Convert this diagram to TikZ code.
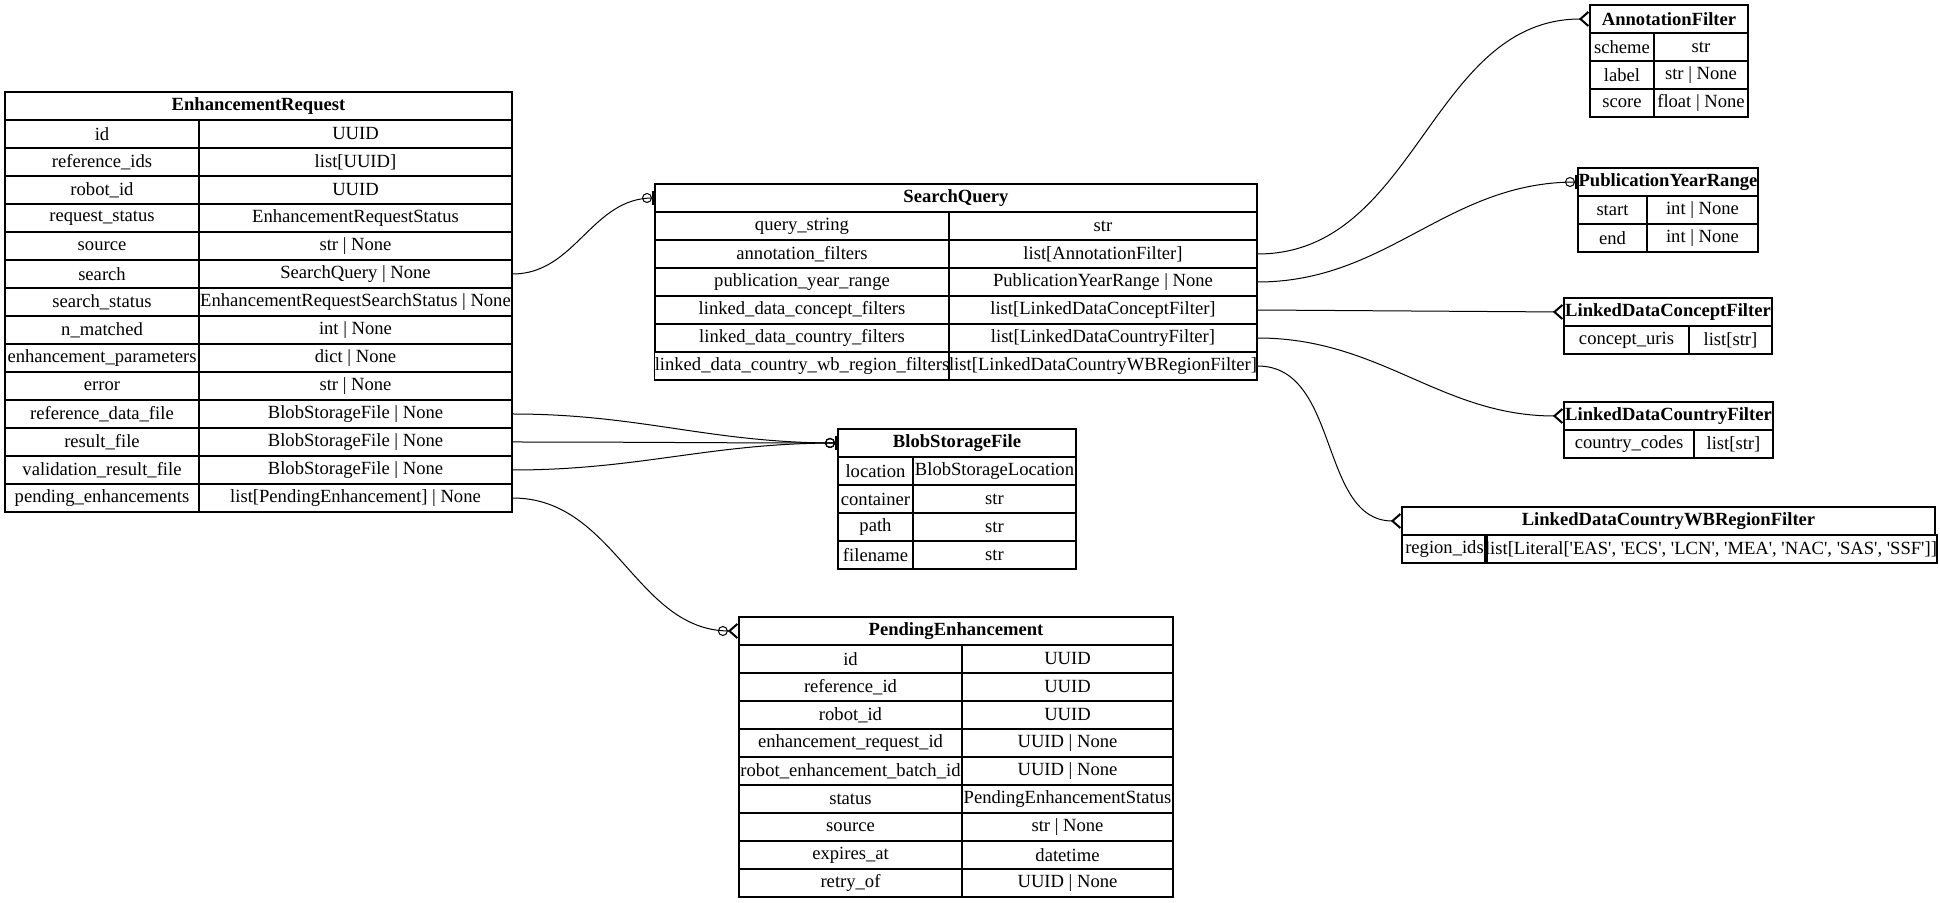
\documentclass[tikz,border=0pt]{standalone}
\usepackage{fontspec}
\setmainfont{Liberation Serif}
\usetikzlibrary{arrows.meta}
\tikzset{
    cell/.style={
           rectangle,
           draw=black, line width=0.6pt,
           minimum height=14pt,
           inner sep=0pt,
           text centered},
    zeroone/.style={
           -{Circle[open,length=5pt,width=5pt] Bar[width=7pt,line width=1.2pt]},
           line width=0.5pt},
    many/.style={
           -{Straight Barb[reversed,length=4pt,width=7pt,line width=1pt]},
           line width=0.5pt},
    zeromany/.style={
           -{Circle[open,length=5pt,width=5pt] Straight Barb[reversed,length=4pt,width=7pt,line width=1pt]},
           line width=0.5pt}
}
% header: name, x0, x1, ytop, text
\newcommand\hdr[5]{\node[cell, font=\bfseries, minimum width={(#3-#2)*0.5pt}] (#1) at ({(#2+#3)/2},{#4+14}) {#5};}
% field: name, x0, xsplit, x1, ytop, key, type
\newcommand\fld[7]{%
  \node[cell, minimum width={(#3-#2)*0.5pt}] (#1-k) at ({(#2+#3)/2},{#5+14}) {#6};
  \node[cell, minimum width={(#4-#3)*0.5pt}] (#1-v) at ({(#3+#4)/2},{#5+14}) {#7};}

\begin{document}
\begin{tikzpicture}[x=0.5pt, y=-0.5pt]
          \fontsize{9.3pt}{11pt}\selectfont
          \useasboundingbox (0,0) rectangle (1940,903);
          % EnhancementRequest
          \hdr{er}{5}{512}{92}{EnhancementRequest}
          \foreach \k/\v [count=\i] in {id/UUID, reference\_ids/list[UUID], robot\_id/UUID,
              request\_status/EnhancementRequestStatus, source/str | None, search/SearchQuery | None,
              search\_status/EnhancementRequestSearchStatus | None, n\_matched/int | None,
              enhancement\_parameters/dict | None, error/str | None,
              reference\_data\_file/BlobStorageFile | None, result\_file/BlobStorageFile | None,
              validation\_result\_file/BlobStorageFile | None,
              pending\_enhancements/list[PendingEnhancement] | None}
            {\fld{er-\i}{5}{199}{512}{92+28*\i}{\k}{\v}}
          % SearchQuery
          \hdr{sq}{655}{1257}{184}{SearchQuery}
          \foreach \k/\v [count=\i] in {query\_string/str, annotation\_filters/list[AnnotationFilter],
              publication\_year\_range/PublicationYearRange | None,
              linked\_data\_concept\_filters/list[LinkedDataConceptFilter],
              linked\_data\_country\_filters/list[LinkedDataCountryFilter],
              linked\_data\_country\_wb\_region\_filters/list[LinkedDataCountryWBRegionFilter]}
            {\fld{sq-\i}{655}{949}{1257}{184+28*\i}{\k}{\v}}
          % AnnotationFilter
          \hdr{af}{1590}{1748}{5}{AnnotationFilter}
          \foreach \k/\v [count=\i] in {scheme/str, label/str | None, score/float | None}
            {\fld{af-\i}{1590}{1654}{1748}{5+28*\i}{\k}{\v}}
          % PublicationYearRange
          \hdr{pyr}{1578}{1758}{168}{PublicationYearRange}
          \foreach \k/\v [count=\i] in {start/int | None, end/int | None}
            {\fld{pyr-\i}{1578}{1647}{1758}{168+28*\i}{\k}{\v}}
          % LinkedDataConceptFilter
          \hdr{ldcf}{1564}{1772}{298}{LinkedDataConceptFilter}
          \fld{ldcf-1}{1564}{1689}{1772}{326}{concept\_uris}{list[str]}
          % LinkedDataCountryFilter
          \hdr{ldcy}{1564}{1773}{402}{LinkedDataCountryFilter}
          \fld{ldcy-1}{1564}{1694}{1773}{430}{country\_codes}{list[str]}
          % LinkedDataCountryWBRegionFilter
          \hdr{wb}{1402}{1935}{507}{LinkedDataCountryWBRegionFilter}
          \fld{wb-1}{1402}{1487}{1935}{535}{region\_ids}{list[Literal[\textquotesingle EAS\textquotesingle, \textquotesingle ECS\textquotesingle, \textquotesingle LCN\textquotesingle, \textquotesingle MEA\textquotesingle, \textquotesingle NAC\textquotesingle, \textquotesingle SAS\textquotesingle, \textquotesingle SSF\textquotesingle]]}
          % BlobStorageFile
          \hdr{bsf}{838}{1076}{429}{BlobStorageFile}
          \foreach \k/\v [count=\i] in {location/BlobStorageLocation, container/str, path/str, filename/str}
            {\fld{bsf-\i}{838}{913}{1076}{429+28*\i}{\k}{\v}}
          % PendingEnhancement
          \hdr{pe}{739}{1173}{617}{PendingEnhancement}
          \foreach \k/\v [count=\i] in {id/UUID, reference\_id/UUID, robot\_id/UUID,
              enhancement\_request\_id/UUID | None, robot\_enhancement\_batch\_id/UUID | None,
              status/PendingEnhancementStatus, source/str | None, expires\_at/datetime, retry\_of/UUID | None}
            {\fld{pe-\i}{739}{962}{1173}{617+28*\i}{\k}{\v}}
          % relations
          \draw[zeroone] (er-6-v.east) to[out=0,in=180] (sq.west);
          \draw[zeroone] (er-11-v.east) to[out=0,in=180] (bsf.west);
          \draw[zeroone] (er-12-v.east) to[out=0,in=180] (bsf.west);
          \draw[zeroone] (er-13-v.east) to[out=0,in=180] (bsf.west);
          \draw[zeromany] (er-14-v.east) to[out=0,in=180] (pe.west);
          \draw[many] (sq-2-v.east) to[out=0,in=180] (af.west);
          \draw[zeroone] (sq-3-v.east) to[out=0,in=180] (pyr.west);
          \draw[many] (sq-4-v.east) -- (ldcf.west);
          \draw[many] (sq-5-v.east) to[out=0,in=180] (ldcy.west);
          \draw[many] (sq-6-v.east) to[out=0,in=180] (wb.west);
\end{tikzpicture}
\end{document}
